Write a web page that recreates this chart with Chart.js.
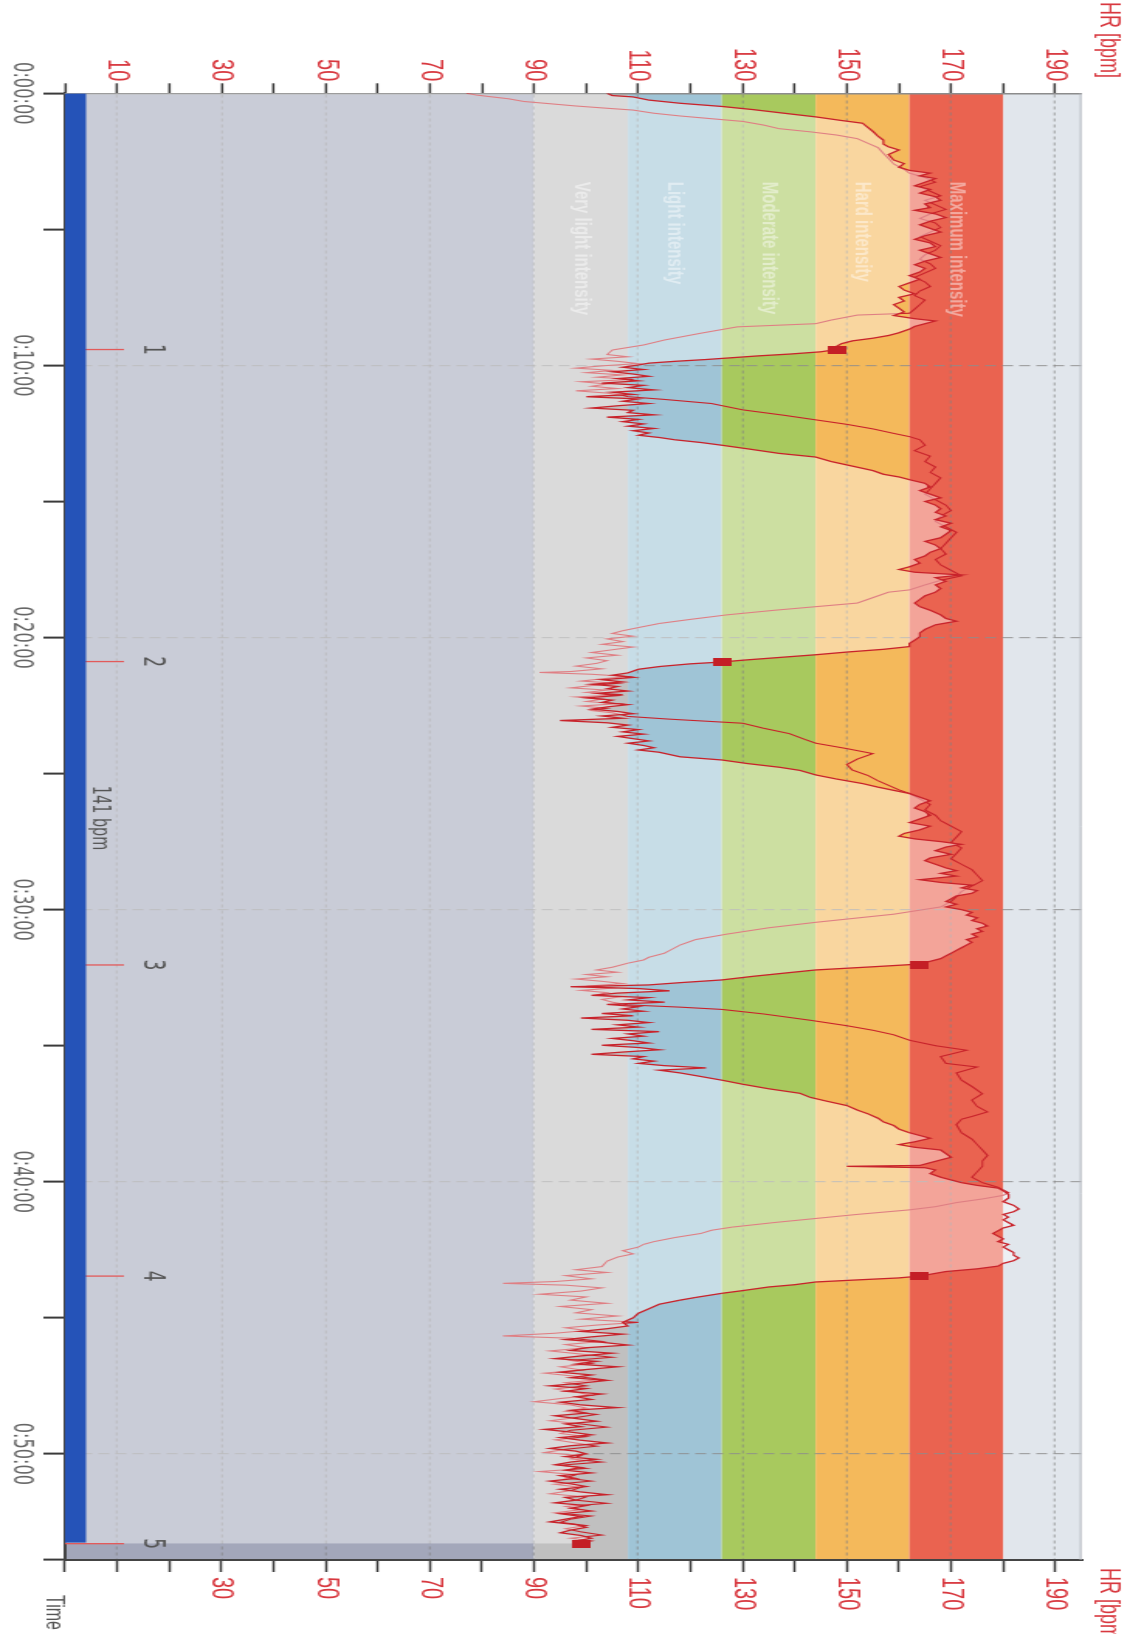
<!DOCTYPE html>
<html>
<head>
<meta charset="utf-8">
<title>Heart rate zones</title>
<script src="https://cdn.jsdelivr.net/npm/chart.js@4.4.1/dist/chart.umd.min.js"></script>
<style>
  html, body { margin: 0; padding: 0; background: #fff; overflow: hidden; }
  body { width: 1127px; height: 1634px; position: relative; }
  /* chart is drawn landscape, then stretched along HR and turned a quarter clockwise */
  #chartBox { position: absolute; left: 0; top: 0; width: 1634px; height: 727px;
    transform-origin: 0 0; transform: translateX(1127px) rotate(90deg) scaleY(1.5502); }
  #hrChart { display: block; }
</style>
</head>
<body>
<div id="chartBox"><canvas id="hrChart" width="1634" height="727"></canvas></div>
<script>
// Session data (time in seconds, heart rate in bpm)
const hrA = [
  [0,104],[5,105],[8,109],[15,112],[22,118],[29,126],[36,132],[44,138],[52,144],[60,149],[66,153],[75,154],[84,155],[95,156],[103,157],[112,157],[118,158],[125,160],[135,158],[147,159],[155,161],[163,160],[170,162],
  [176,166],[182,164],[188,167],[196,165],[204,163],[212,166],[220,164],[228,167],[236,168],[244,165],[252,166],[258,163],[266,167],[274,169],[282,166],[290,164],[298,166],[306,168],[314,165],[322,163],[330,166],[338,167],[346,164],[354,166],[362,168],[370,165],[378,163],[386,165],[394,164],[402,162],[410,164],[418,162],[426,160],[434,161],[442,163],[450,160],[458,161],[466,159],[474,160],[482,161],[490,159],[497,163],[502,167],[508,165],[514,163],[520,162],[528,160],
  [534,158],[540,155],[546,151],[552,149],[558,148],[565,148],[570,145],[575,139],[579,133],[583,128],[587,123],[591,117],[595,112],[599,110],
  [604,107],[609,111],[614,105],[619,109],[624,112],[629,106],[634,110],[639,103],[644,111],[649,108],[654,113],[659,105],[664,109],[669,100],[674,110],[679,107],[684,112],[689,106],[694,101],[699,109],[704,108],[709,113],[714,104],[719,110],[724,107],[729,111],[734,108],[739,113],[744,109],[749,112],[754,110],[759,114],[764,117],
  [770,122],[776,126],[784,131],[794,137],[802,144],[812,147],[822,151],[832,155],[840,157],[846,160],[852,162],
  [860,165],[868,166],[876,164],[884,166],[892,168],[900,165],[908,167],[916,168],[924,167],[932,169],[940,167],[948,170],[956,168],[964,170],[972,169],[980,168],[988,165],[996,167],[1004,168],[1012,166],[1020,165],[1028,163],[1036,164],[1044,162],[1050,160],[1056,163],[1062,172],[1068,167],[1076,169],[1084,167],[1092,168],[1100,167],[1108,165],[1116,164],[1124,163],[1132,164],[1140,166],[1150,168],[1158,169],[1164,171],[1172,167],[1182,165],[1190,164],[1198,164],[1206,163],[1213,162],[1220,162],
  [1226,157],[1232,150],[1238,144],[1244,137],[1250,130],[1254,126],[1258,120],[1264,114],[1270,110],[1278,108],
  [1283,105],[1288,109],[1293,103],[1298,107],[1303,101],[1308,106],[1313,104],[1318,108],[1323,102],[1328,106],[1333,100],[1338,105],[1343,103],[1348,108],[1353,104],[1358,101],[1363,106],[1368,109],[1373,103],[1378,107],[1383,95],[1388,104],[1393,108],[1398,105],[1403,110],[1408,107],[1413,111],[1418,106],[1423,109],[1428,112],[1433,108],[1438,111],[1443,113],[1448,110],[1453,114],[1458,116],[1463,118],
  [1470,126],[1478,131],[1486,137],[1493,141],[1503,144],[1512,148],[1522,153],[1530,156],[1537,159],[1544,162],
  [1552,164],[1560,166],[1568,164],[1576,163],[1584,165],[1592,166],[1600,164],[1608,162],[1616,166],[1624,164],[1632,161],[1638,160],[1644,163],[1650,168],[1656,172],[1662,169],[1670,167],[1678,170],[1686,166],[1692,165],[1700,167],[1708,169],[1714,171],[1720,168],[1726,171],[1734,164],[1740,168],[1746,174],[1752,172],[1758,175],[1764,174],[1770,171],[1776,170],[1782,169],[1788,171],[1794,169],[1800,172],[1806,174],[1812,173],[1818,175],[1824,174],[1830,176],[1836,177],[1842,175],[1848,176],[1854,174],[1860,175],[1866,173],[1872,174],[1878,173],[1884,172],[1890,171],[1896,170],[1902,169],[1908,168],[1914,166],[1920,164],
  [1926,155],[1933,144],[1940,138],[1947,132],[1955,126],[1961,118],[1966,112],
  [1970,97],[1974,110],[1979,116],[1984,106],[1989,101],[1994,112],[1999,108],[2004,115],[2009,104],[2014,110],[2019,107],[2024,111],[2029,103],[2034,109],[2039,99],[2044,108],[2049,112],[2054,106],[2059,110],[2064,101],[2069,114],[2074,108],[2079,111],[2084,105],[2089,109],[2094,112],[2099,103],[2104,110],[2109,114],[2114,107],[2119,101],[2124,111],[2129,109],[2134,113],[2139,110],[2144,115],[2149,123],[2154,114],[2160,118],
  [2166,121],[2176,126],[2185,130],[2195,135],[2205,141],[2214,143],[2222,146],[2232,150],[2242,152],[2250,154],[2260,156],[2268,157],[2276,159],[2284,160],[2292,162],
  [2298,164],[2304,166],[2312,163],[2318,160],[2324,163],[2330,168],[2338,169],[2346,170],[2352,168],[2358,166],[2364,164],[2366,150],[2369,165],[2374,167],[2382,166],[2390,168],[2396,170],[2402,172],[2408,175],[2414,179],[2420,180],[2428,181],[2436,181],[2444,180],[2452,182],[2460,183],[2466,182],[2472,180],[2478,181],[2484,180],[2490,181],[2496,182],[2502,180],[2508,179],[2514,178],[2520,179],[2526,180],[2532,179],[2538,181],[2544,180],[2550,181],[2556,182],[2562,182],[2568,183],[2574,182],[2580,180],[2586,179],[2592,175],[2598,169],[2604,166],[2608,164],
  [2612,160],[2617,151],[2621,144],[2627,140],[2632,135],[2640,130],[2646,126],[2655,121],[2661,118],[2670,114],[2680,112],[2690,110],[2700,109],[2710,107],[2718,108],
  [2724,104],[2730,99],[2736,107],[2742,101],[2748,96],[2754,103],[2760,108],[2766,100],[2772,97],[2778,105],[2784,99],[2790,94],[2796,102],[2802,98],[2808,106],[2814,100],[2820,95],[2826,101],[2832,97],[2838,104],[2844,99],[2850,93],[2856,100],[2862,96],[2868,103],[2874,98],[2880,101],[2886,95],[2892,99],[2898,106],[2904,97],[2910,100],[2916,94],[2922,98],[2928,102],[2934,96],[2940,99],[2946,92],[2952,97],[2958,101],[2964,95],[2970,99],[2976,104],[2982,97],[2988,93],[2994,98],[3000,100],[3006,96],[3012,102],[3018,97],[3024,94],[3030,99],[3036,96],[3042,101],[3048,95],[3054,98],[3060,93],[3066,97],[3072,100],[3078,95],[3084,99],[3090,104],[3096,96],[3102,98],[3108,94],[3114,100],[3120,97],[3126,101],[3132,95],[3138,99],[3144,96],[3150,93],[3156,98],[3162,100],[3168,97],[3174,95],[3180,99],[3186,101],[3192,98],[3198,99]
];

const hrB = [
  [0,77],[4,79],[8,82],[12,85],[18,88],[22,92],[28,98],[33,104],[37,109],[44,113],[50,118],[56,124],[62,130],[70,134],[78,137],[85,143],[92,148],[100,152],[110,154],[120,156],[132,157],[144,158],[156,159],[168,161],[176,162],
  [186,165],[196,167],[206,164],[216,166],[226,168],[236,165],[246,167],[256,169],[266,166],[276,164],[286,167],[296,168],[306,166],[316,164],[326,166],[336,168],[346,167],[356,165],[366,164],[376,166],[386,167],[396,165],[406,163],[416,165],[426,166],[436,164],[446,163],[456,165],[466,164],[476,163],[485,162],
  [489,152],[500,147],[508,144],[515,129],[529,122],[544,115],[555,111],[566,105],[576,104],
  [581,108],[586,101],[591,106],[596,110],[601,103],[606,98],[611,105],[616,100],[621,107],[626,102],[631,109],[636,99],[641,104],[646,101],[651,106],[656,98],[661,104],[666,107],[669,108],
  [675,115],[684,124],[698,130],[710,138],[720,144],[730,150],[740,155],[750,159],[757,162],
  [764,164],[776,165],[788,163],[800,166],[812,165],[824,167],[836,166],[848,168],[860,167],[872,166],[884,165],[896,167],[908,169],[920,170],[932,168],[944,167],[956,169],[968,171],[980,170],[992,169],[1004,168],[1016,169],[1028,167],[1040,168],[1052,170],[1064,172],[1074,168],[1084,165],[1095,162],
  [1100,158],[1112,155],[1124,152],[1132,144],[1140,136],[1150,127],[1160,120],[1169,114],[1178,110],[1185,107],[1191,105],[1197,109],[1203,104],[1209,107],[1215,103],[1221,109],[1227,105],[1233,101],[1239,106],[1245,100],[1251,104],[1257,102],[1263,98],[1269,103],[1275,97],[1277,91],[1281,101],[1286,108],
  [1291,103],[1296,99],[1301,106],[1306,101],[1311,97],[1316,104],[1321,100],[1326,107],[1331,98],[1336,103],[1341,100],[1346,106],[1351,99],[1356,104],[1361,101],[1366,105],[1371,107],[1374,108],
  [1380,116],[1389,130],[1400,134],[1412,139],[1425,142],[1433,144],[1445,150],[1456,155],[1468,152],[1480,150],[1492,151],[1504,154],[1516,156],[1526,158],[1536,160],[1544,162],
  [1556,164],[1568,166],[1580,165],[1592,167],[1604,168],[1616,170],[1628,172],[1640,171],[1652,170],[1664,172],[1676,171],[1688,170],[1700,172],[1712,174],[1724,175],[1736,176],[1748,174],[1760,172],[1772,171],[1782,170],[1794,168],
  [1810,159],[1828,144],[1840,135],[1854,127],[1866,121],[1878,118],[1890,116],[1896,115],[1905,112],[1911,111],[1918,108],[1927,105],[1933,102],
  [1938,106],[1943,100],[1948,104],[1953,98],[1958,103],[1963,107],[1968,101],[1973,105],[1978,99],[1983,104],[1988,102],[1993,106],[1998,103],[2004,105],[2010,108],
  [2015,118],[2020,126],[2030,134],[2044,143],[2056,150],[2066,155],[2076,159],[2088,162],
  [2100,167],[2110,173],[2124,168],[2139,169],[2147,175],[2160,171],[2176,172],[2190,174],[2206,176],[2220,174],[2234,175],[2246,177],[2256,174],[2262,172],[2274,171],[2292,172],[2306,174],[2318,175],[2330,176],[2342,177],[2354,176],[2366,176],[2378,175],[2390,174],[2402,176],[2412,179],[2418,180],[2424,181],[2430,180],
  [2438,176],[2446,171],[2455,167],[2462,162],[2472,152],[2481,144],[2490,136],[2500,128],[2507,124],[2514,122],[2523,117],[2532,113],[2538,111],[2544,110],[2552,107],[2559,109],[2566,106],[2575,104],[2587,103],
  [2594,98],[2600,104],[2607,96],[2614,101],[2620,94],[2624,84],[2628,96],[2634,103],[2641,99],[2648,91],[2654,100],[2661,97],[2668,104],[2675,95],[2682,101],[2689,98],[2696,106],[2703,99],[2710,110],[2716,102],[2722,96],[2728,100],[2734,94],[2740,84],[2745,97],[2752,103],[2759,96],[2766,100],[2773,93],[2780,99],[2787,105],[2794,97],[2801,101],[2808,95],[2815,99],[2822,92],[2829,98],[2836,103],[2843,96],[2850,100],[2857,94],[2864,98],[2871,101],[2878,95],[2885,90],[2892,97],[2899,100],[2906,96],[2913,102],[2920,98],[2927,93],[2934,99],[2941,104],[2948,97],[2955,95],[2962,100],[2969,94],[2976,98],[2983,102],[2990,96],[2997,92],[3004,99],[3011,97],[3018,103],[3025,95],[3032,100],[3039,91],[3046,98],[3053,96],[3060,101],[3067,94],[3074,99],[3081,97],[3088,93],[3095,100],[3102,98],[3109,104],[3116,96],[3123,99],[3130,94],[3137,101],[3144,97],[3151,95],[3158,100],[3165,96],[3172,99],[3179,103],[3186,97],[3192,101],[3198,98]
];

// Laps
const lapTimes = [565, 1253, 1922, 2608, 3198];
const lapHR = [148, 126, 164, 164, 99];
const lapLabels = ['1', '2', '3', '4', '5'];

// Zones (bpm bounds) and their names
const zoneBounds = [90, 108, 126, 144, 162, 180];
const zoneNames = ['Very light intensity', 'Light intensity', 'Moderate intensity', 'Hard intensity', 'Maximum intensity'];

// Axes and tick positions
const timeMax = 3234;       // seconds shown on the time axis
const hrMin = 0, hrMax = 195;
const timeTicks = [0, 300, 600, 900, 1200, 1500, 1800, 2100, 2400, 2700, 3000, 3234];
const hrTicks = [0, 10, 20, 30, 40, 50, 60, 70, 80, 90, 100, 110, 120, 130, 140, 150, 160, 170, 180, 190];
const sessionEnd = 3196;    // session bar end
const sessionBarTop = 4;    // bpm height of the session bar
const lapTickTop = 11.3;    // lap tick reaches this bpm
const lapNumberAt = 16.5;   // bpm level of lap numbers
const avgLabel = '141 bpm';
const avgLabelAt = 6.7;
const zoneLabelStart = 195; // seconds

// Styles
const zoneColors = ['#c0c0c0', '#9fc4d6', '#a8c95e', '#f4b95b', '#ea6350'];
const belowZoneColor = '#a3a7ba';
const aboveZoneColor = '#e1e6ec';
const lineRed = '#c8232b';
const axisRed = '#d8383f';
const narrowFont = "'Liberation Sans Narrow', 'Arial Narrow', 'DejaVu Sans Condensed', sans-serif";
const regularFont = "'Liberation Sans', Arial, sans-serif";

function fmtTime(v) {
    const h = Math.floor(v / 3600);
    const m = Math.floor((v % 3600) / 60);
    const s = v % 60;
    return `${h}:${String(m).padStart(2, '0')}:${String(s).padStart(2, '0')}`;
}

// lap marker: small upright red block
const lapMarker = document.createElement('canvas');
lapMarker.width = 8;
lapMarker.height = 12;
const lmCtx = lapMarker.getContext('2d');
lmCtx.fillStyle = '#c41f26';
lmCtx.fillRect(0, 0, 8, 12);

// Zone bands behind everything, texts on top
const zonePlugin = {
    id: 'zoneBands',
    beforeDraw(chart) {
        const { ctx, chartArea: a, scales: { y } } = chart;
        ctx.save();
        const band = (lo, hi, color) => {
            const top = y.getPixelForValue(hi);
            const bottom = y.getPixelForValue(lo);
            ctx.fillStyle = color;
            ctx.fillRect(a.left, top, a.right - a.left, bottom - top);
        };
        band(hrMin, zoneBounds[0], belowZoneColor);
        for (let i = 0; i < zoneColors.length; i++) band(zoneBounds[i], zoneBounds[i + 1], zoneColors[i]);
        band(zoneBounds[zoneBounds.length - 1], hrMax, aboveZoneColor);
        ctx.restore();
    },
    afterDraw(chart) {
        const { ctx, chartArea: a, scales: { x, y } } = chart;
        ctx.save();
        // plot top edge
        ctx.strokeStyle = '#b4b8bf';
        ctx.lineWidth = 1;
        ctx.beginPath();
        ctx.moveTo(a.left, a.top + 0.5);
        ctx.lineTo(a.right, a.top + 0.5);
        ctx.stroke();

        ctx.textBaseline = 'middle';
        // zone names
        ctx.font = `bold 15px ${regularFont}`;
        ctx.fillStyle = 'rgba(255,255,255,0.45)';
        ctx.textAlign = 'left';
        zoneNames.forEach((name, i) => {
            const mid = (zoneBounds[i] + zoneBounds[i + 1]) / 2;
            ctx.fillText(name, x.getPixelForValue(zoneLabelStart), y.getPixelForValue(mid));
        });
        // lap numbers
        ctx.font = `19px ${narrowFont}`;
        ctx.fillStyle = '#555';
        ctx.textAlign = 'center';
        lapTimes.forEach((t, i) => ctx.fillText(lapLabels[i], x.getPixelForValue(t), y.getPixelForValue(lapNumberAt)));
        // session average
        ctx.font = `16px ${narrowFont}`;
        ctx.fillText(avgLabel, x.getPixelForValue(sessionEnd / 2), y.getPixelForValue(avgLabelAt));
        // axis titles
        ctx.textAlign = 'left';
        ctx.font = `18px ${regularFont}`;
        ctx.fillStyle = axisRed;
        ctx.fillText('HR [bpm]', 2, 12);
        ctx.fillText('HR [bpm]', a.right + 8, 12);
        ctx.font = `16px ${regularFont}`;
        ctx.fillStyle = '#555';
        ctx.fillText('Time', a.right + 35, a.bottom + 8);
        ctx.restore();
    }
};

const lapLinePoints = [];
lapTimes.forEach(t => {
    lapLinePoints.push({ x: t, y: hrMin }, { x: t, y: lapTickTop }, { x: t, y: null });
});

const setTicks = list => scale => { scale.ticks = list.map(v => ({ value: v })); };

new Chart(document.getElementById('hrChart'), {
    type: 'line',
    data: {
        datasets: [
            {   // lap markers on the curve
                data: lapTimes.map((t, i) => ({ x: t, y: lapHR[i] })),
                showLine: false,
                pointStyle: lapMarker,
                pointRadius: 6,
                pointHoverRadius: 6
            },
            {   // session bar
                data: [{ x: 0, y: sessionBarTop }, { x: sessionEnd, y: sessionBarTop }],
                borderWidth: 0,
                pointRadius: 0,
                fill: { value: hrMin },
                backgroundColor: '#2553b8'
            },
            {   // lap ticks
                data: lapLinePoints,
                borderColor: '#e25a5a',
                borderWidth: 1.3,
                pointRadius: 0,
                spanGaps: false,
                fill: false
            },
            {   // HR
                data: hrA.map(([t, v]) => ({ x: t, y: v })),
                borderColor: lineRed,
                borderWidth: 1.3,
                pointRadius: 0,
                fill: { value: hrMin },
                backgroundColor: 'rgba(255,255,255,0.42)'
            },
            {   // second HR trace
                data: hrB.map(([t, v]) => ({ x: t, y: v })),
                borderColor: lineRed,
                borderWidth: 1.1,
                pointRadius: 0,
                fill: false
            }
        ]
    },
    options: {
        responsive: false,
        animation: false,
        devicePixelRatio: 1,
        layout: { padding: { top: 29.4, left: 0, right: 0, bottom: 0 } },
        plugins: { legend: { display: false }, tooltip: { enabled: false } },
        scales: {
            x: {
                type: 'linear', position: 'bottom', min: 0, max: timeMax,
                afterBuildTicks: setTicks(timeTicks),
                ticks: {
                    autoSkip: false, maxRotation: 0, padding: 4,
                    color: '#666', font: { family: narrowFont, size: 18 },
                    callback: v => (v % 600 === 0 ? fmtTime(v) : '')
                },
                grid: {
                    color: c => (c.tick && c.tick.value > 0 && c.tick.value % 600 === 0) ? 'rgba(140,140,140,0.75)' : 'rgba(0,0,0,0)',
                    lineWidth: 1.2, tickLength: 14, tickColor: '#3a3a3a', tickWidth: 2
                },
                border: { color: '#444', width: 2, dash: [7, 4] },
                afterFit: s => { s.height = 42; }
            },
            y: {
                position: 'left', min: hrMin, max: hrMax,
                afterBuildTicks: setTicks(hrTicks),
                ticks: {
                    autoSkip: false, padding: 2,
                    color: axisRed, font: { family: regularFont, size: 20 },
                    callback: v => (v % 20 === 10 ? String(v) : '')
                },
                grid: {
                    color: c => (c.tick && c.tick.value % 20 === 10) ? 'rgba(130,130,130,0.55)' : 'rgba(0,0,0,0)',
                    lineWidth: 1.3, tickLength: 10, tickColor: '#3a3a3a', tickWidth: 1.5
                },
                border: { color: '#8c8c8c', width: 1.5, dash: [3, 3] },
                afterFit: s => { s.width = 93.3; }
            },
            y2: {
                position: 'right', min: hrMin, max: hrMax,
                afterBuildTicks: setTicks(hrTicks),
                ticks: {
                    autoSkip: false, padding: 5,
                    color: axisRed, font: { family: regularFont, size: 20 },
                    callback: v => (v % 20 === 10 && v > 10 ? String(v) : '')
                },
                grid: { drawOnChartArea: false, tickLength: 12, tickColor: '#3a3a3a', tickWidth: 1.5 },
                border: { color: '#444', width: 2 },
                afterFit: s => { s.width = 74; }
            }
        }
    },
    plugins: [zonePlugin]
});
</script>
</body>
</html>
